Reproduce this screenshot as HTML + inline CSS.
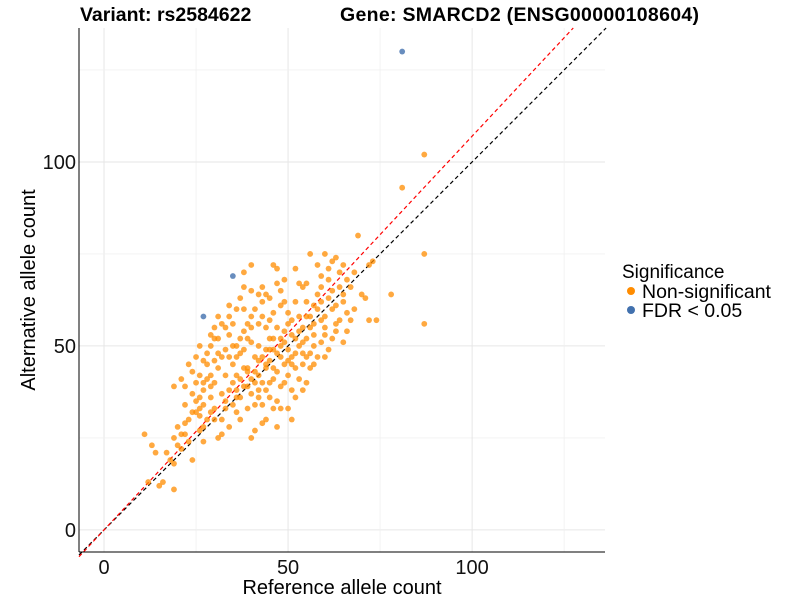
<!DOCTYPE html>
<html><head><meta charset="utf-8"><style>
body{margin:0;background:#fff;}
svg{display:block;font-family:"Liberation Sans",sans-serif;}
</style></head><body>
<svg id="chart" width="800" height="600">
<g id="grid"></g>
<g id="lines"></g>
<g id="points"></g>
<g id="axes"></g>
<text x="80" y="21" font-size="19.5" font-weight="bold">Variant: rs2584622</text>
<text x="340" y="21" font-size="19.5" font-weight="bold" textLength="359">Gene: SMARCD2 (ENSG00000108604)</text>
<text x="342" y="594" font-size="20" text-anchor="middle">Reference allele count</text>
<text transform="translate(35,290) rotate(-90)" font-size="20" text-anchor="middle">Alternative allele count</text>
<g>
<text x="622" y="278" font-size="19">Significance</text>
<circle cx="631" cy="291" r="4" fill="#FF8C00"/>
<text x="642" y="298" font-size="19.5">Non-significant</text>
<circle cx="631" cy="310" r="4" fill="#4271AE"/>
<text x="642" y="317" font-size="19.5">FDR &lt; 0.05</text>
</g>
</svg>
<script>
const xTicks=[0,50,100];
const yTicks=[0,50,100];
const gridVals=[0,25,50,75,100,125];
const redSlope=1.07;
const nonsigPoints=[[87,102],[81,93],[87,75],[87,56],[78,64],[72,57],[74,57],[69,80],[73,73],[72,72],[11,26],[14,21],[13,23],[19,11],[19,18],[18,19],[15,12],[16,13],[12,13],[19,39],[22,29],[24,19],[27,24],[21,22],
[25,40],[26,42],[27,38],[28,45],[29,50],[30,52],[30,40],[31,44],[32,47],[33,55],[34,53],[35,56],[36,50],[36,42],[37,48],[38,44],[38,60],[39,52],[40,41],[40,55],[41,47],[42,50],[42,38],[43,58],[44,45],[45,52],[45,40],[46,49],[47,55],[47,43],[48,61],[48,47],[49,51],[50,46],[50,56],[51,53],[52,48],[53,58],[54,51],[55,47],[55,62],[56,55],[57,50],[58,64],[59,57],[60,53],[61,68],[62,60],[63,56],[64,70],[65,62],[66,59],[60,47],[58,47],[62,52],[57,45],[65,51],[54,38],[51,38],[47,35],[46,33],[44,30],[43,34],[41,27],[42,36],[39,33],[37,30],[36,32],[34,28],[33,35],[32,30],[31,25],[30,33],[29,36],[28,30],[27,34],[26,27],[25,35],[24,32],[23,30],[22,34],[21,26],[20,28],[35,40],[36,38],[37,41],[38,39],[39,43],[40,37],[41,40],[42,42],[43,40],[44,44],[45,46],[46,44],[47,48],[48,50],[49,45],[50,49],[51,47],[52,52],[53,50],[54,55],[55,52],[56,58],[57,56],[58,60],[59,62],[60,58],[61,63],[62,65],[63,61],[64,66],[65,64],[66,68],[67,66],[68,70],[58,72],[56,75],[60,75],[62,73],[55,67],[54,66],[52,71],[49,62],[46,72],[47,71],[44,64],[42,64],[40,65],[38,66],[36,60],[34,61],[32,56],[31,58],[30,55],[29,53],[28,48],[27,46],[26,50],[25,47],[24,43],[23,45],[22,39],[21,41],[33,49],[34,47],[35,45],[36,47],[37,52],[38,54],[39,56],[40,58],[41,60],[43,62],[45,57],[46,59],[48,65],[50,59],[52,62],[53,67],[44,55],[42,56],[40,51],[38,49],[35,50],[33,42],[31,48],[30,46],[29,42],[28,41],[27,40],[26,36],[25,32],[45,36],[48,39],[50,42],[52,44],[54,45],[56,48],[59,51],[61,49],[63,54],[64,57],[66,54],[70,64],[71,63],[68,60],[67,57],[48,33],[51,30],[52,36],[47,28],[43,29],[40,25],[32,26],[35,34],[39,44],[41,43],[43,47],[44,49],[46,52],[49,54],[51,57],[53,54],[55,58],[57,61],[59,66],[61,71],[63,74],[65,72],[59,69],[38,70],[40,72],[34,58],[45,63],[47,67],[49,68],[43,66],[37,63],[31,52],[29,39],[26,33],[24,37],[22,26],[20,23],[19,25],[17,21],[23,24],[27,28],[30,30],[33,33],[36,36],[39,39],[42,46],[45,49],[48,52],[51,45],[54,48],[57,53],[60,55],[53,41],[56,44],[55,40],[49,40],[46,41],[50,33],[44,38],[41,34],[37,36],[34,38],[32,37],[29,32],[26,31]];
const sigPoints=[[81,130],[35,69],[27,58]];

const X0=79,X1=605,Y0=552,Y1=28,xmin=-6.8,xmax=136.1,ymin=-6.0,ymax=136.4;
const sx=v=>X0+(v-xmin)/(xmax-xmin)*(X1-X0);
const sy=v=>Y0-(v-ymin)/(ymax-ymin)*(Y0-Y1);
const NS="http://www.w3.org/2000/svg";
function mk(tag,parent,attrs){const e=document.createElementNS(NS,tag);for(const k in attrs)e.setAttribute(k,attrs[k]);parent.appendChild(e);return e;}
const grid=document.getElementById('grid'),lines=document.getElementById('lines'),pts=document.getElementById('points'),axes=document.getElementById('axes');
gridVals.forEach(v=>{
  const major=v%50===0;
  const a=mk('line',grid,{x1:sx(v),x2:sx(v),y1:Y1,y2:Y0,stroke:major?'#e6e6e6':'#f0f0f0','stroke-width':major?1:0.8});
  
  
  const b=mk('line',grid,{x1:X0,x2:X1,y1:sy(v),y2:sy(v),stroke:major?'#e6e6e6':'#f0f0f0','stroke-width':major?1:0.8});
  
  
});
let l1=mk('line',lines,{x1:sx(xmin),y1:sy(xmin),x2:sx(ymax),y2:sy(ymax),stroke:'#000','stroke-dasharray':'4,3','stroke-width':1.2});


let xe=ymax/redSlope;
let l2=mk('line',lines,{x1:sx(xmin),y1:sy(xmin*redSlope),x2:sx(xe),y2:sy(ymax),stroke:'#ff0000','stroke-dasharray':'4,3','stroke-width':1.2});


nonsigPoints.forEach(p=>{
  const c=mk('circle',pts,{cx:sx(p[0]),cy:sy(p[1]),r:2.9,fill:'#FF8C00','fill-opacity':0.75});
  
  
});
sigPoints.forEach(p=>{
  const c=mk('circle',pts,{cx:sx(p[0]),cy:sy(p[1]),r:2.9,fill:'#4271AE','fill-opacity':0.8});
  
  
});
let ax=mk('line',axes,{x1:X0,x2:X0,y1:Y1,y2:Y0,stroke:'#000','stroke-width':1});


let ay=mk('line',axes,{x1:X0,x2:X1,y1:Y0,y2:Y0,stroke:'#000','stroke-width':1});


xTicks.forEach(v=>{
  const t=mk('text',axes,{x:sx(v),y:Y0+22,'font-size':20,'text-anchor':'middle',fill:'#111'});
  t.textContent=v;
  
  
});
yTicks.forEach(v=>{
  const t=mk('text',axes,{x:X0-3,y:sy(v)+7,'font-size':20,'text-anchor':'end',fill:'#111'});
  t.textContent=v;
  
  
});
</script>
</body></html>
